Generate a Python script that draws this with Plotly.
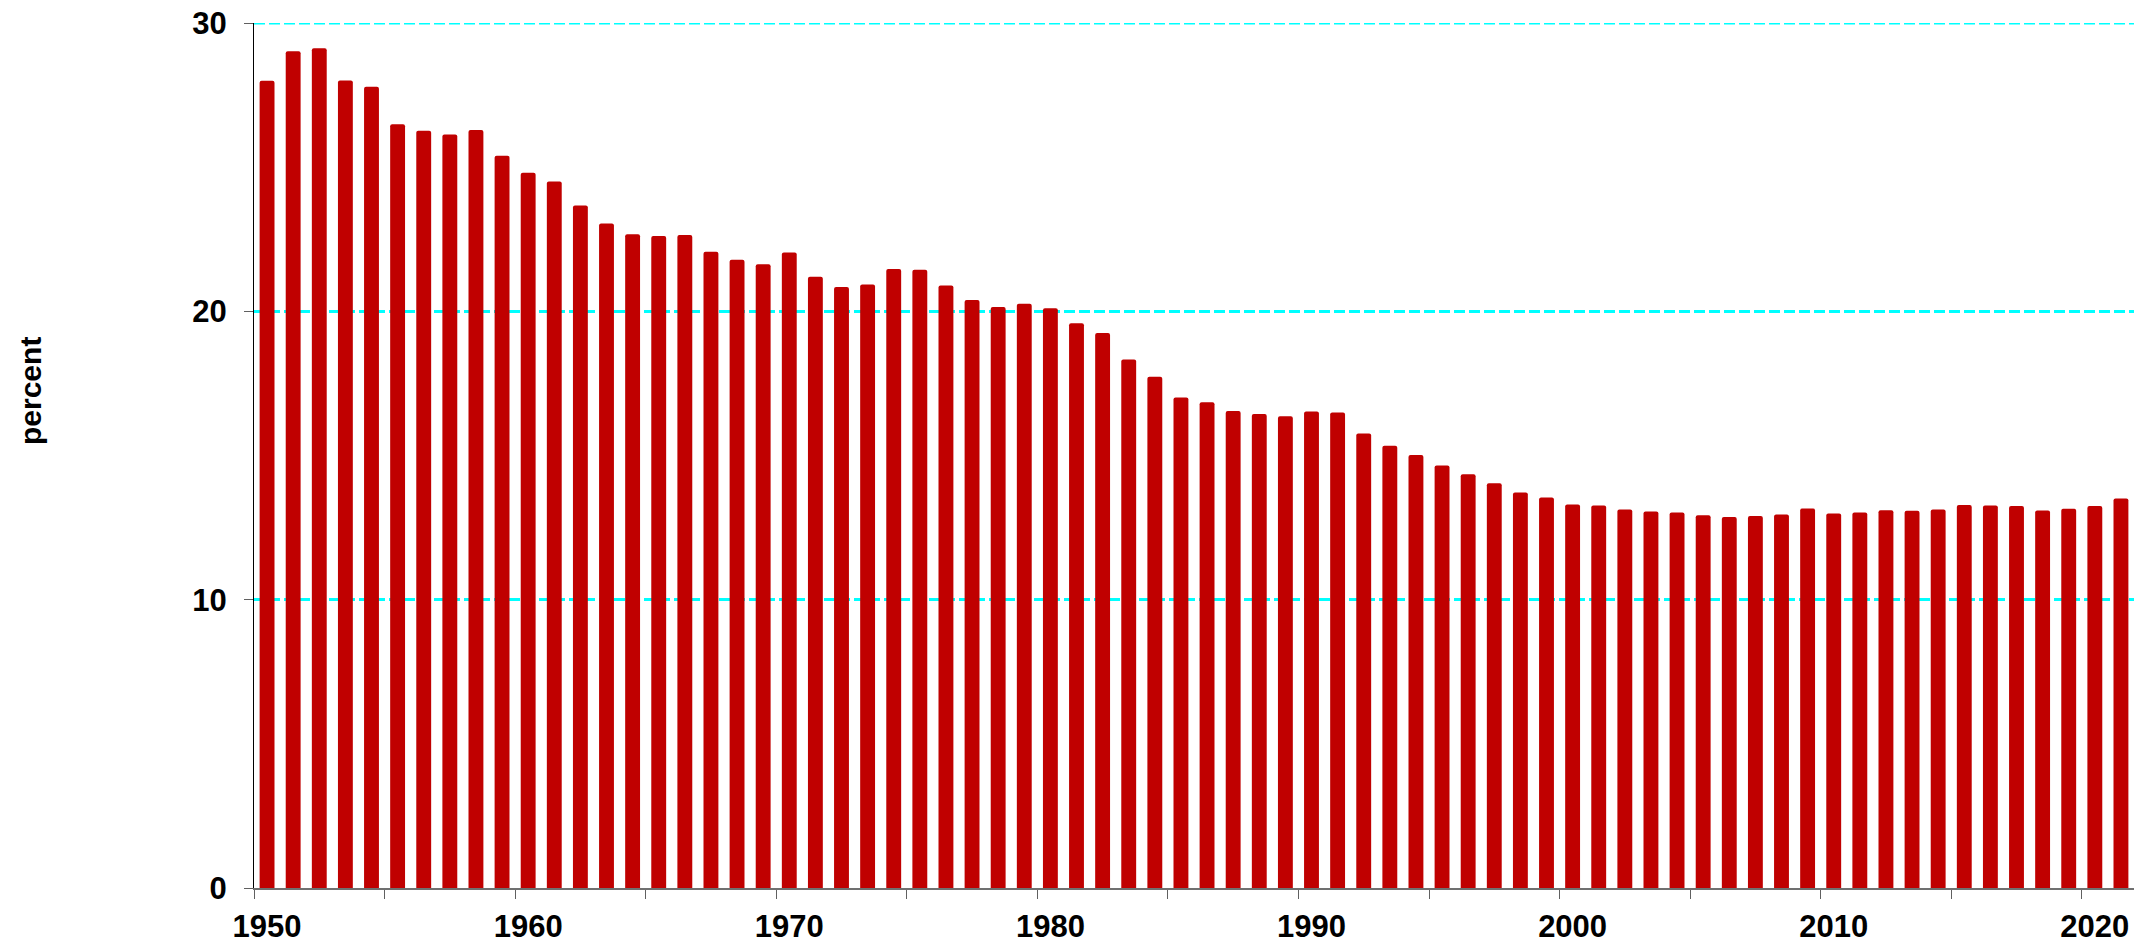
import plotly.graph_objects as go

years = list(range(1950, 2022))
values = [
    28.00, 29.02, 29.12, 28.01, 27.79, 26.49, 26.26, 26.13, 26.29, 25.40,
    24.81, 24.50, 23.67, 23.05, 22.67, 22.61, 22.65, 22.07, 21.79, 21.63,
    22.04, 21.20, 20.84, 20.93, 21.47, 21.44, 20.90, 20.39, 20.15, 20.26,
    20.11, 19.59, 19.25, 18.33, 17.73, 17.01, 16.85, 16.54, 16.44, 16.36,
    16.53, 16.49, 15.76, 15.34, 15.02, 14.65, 14.35, 14.04, 13.72, 13.54,
    13.30, 13.27, 13.13, 13.06, 13.02, 12.93, 12.87, 12.90, 12.95, 13.16,
    12.99, 13.02, 13.10, 13.08, 13.13, 13.28, 13.27, 13.25, 13.09, 13.15,
    13.25, 13.51,
]
x_tick_vals = [1950, 1960, 1970, 1980, 1990, 2000, 2010, 2020]
x_tick_text = ["1950", "1960", "1970", "1980", "1990", "2000", "2010", "2020"]
y_tick_vals = [0, 10, 20, 30]
y_tick_text = ["0", "10", "20", "30"]
y_title = "percent"

FONT = "Liberation Sans, Arial, sans-serif"
# the page places the figure 8px from the top-left corner of the window
OFF = 8
W, H = 2151 - OFF, 945 - OFF
ML, MR, MT, MB = 254 - OFF, 17, 23 - OFF, 57
GRID = dict(color="#00FFFF", width=3, dash="11px,4px")

fig = go.Figure()
fig.add_trace(go.Bar(
    x=years, y=values,
    marker=dict(color="#C00000", line=dict(width=0), cornerradius=2),
    hoverinfo="x+y",
))

fig.update_layout(
    width=W, height=H,
    margin=dict(l=ML, r=MR, t=MT, b=MB, pad=0, autoexpand=False),
    plot_bgcolor="white", paper_bgcolor="white",
    bargap=0.43,
    showlegend=False,
    font=dict(family=FONT, color="black"),
    xaxis=dict(
        range=[1949.5, 2021.5], automargin=False,
        tickmode="array", tickvals=x_tick_vals, ticktext=x_tick_text,
        ticks="outside", ticklen=0, tickcolor="rgba(0,0,0,0)",
        minor=dict(tickmode="linear", tick0=1949.5, dtick=5, ticks="outside",
                   ticklen=9, tickwidth=1, tickcolor="#606060", showgrid=False),
        showgrid=False, zeroline=False,
        showline=True, linecolor="#707070", linewidth=1.5,
        tickfont=dict(family=FONT, size=31, weight="bold", color="black"),
        ticklabelstandoff=10, ticklabeloverflow="allow",
    ),
    yaxis=dict(
        range=[0, 30], automargin=False,
        tickmode="array", tickvals=y_tick_vals, ticktext=y_tick_text,
        ticks="outside", ticklen=9, tickwidth=1, tickcolor="#606060",
        showgrid=True, gridcolor=GRID["color"], gridwidth=GRID["width"],
        griddash=GRID["dash"],
        zeroline=False,
        showline=True, linecolor="black", linewidth=1,
        tickfont=dict(family=FONT, size=31, weight="bold", color="black"),
        ticklabelstandoff=11, ticklabeloverflow="allow",
    ),
)

# top gridline at the range end (plotly clips the grid line at the edge)
fig.add_shape(type="line", xref="paper", yref="y", x0=0, x1=1,
              y0=y_tick_vals[-1], y1=y_tick_vals[-1], layer="below",
              line=GRID)

fig.add_annotation(
    text=y_title, textangle=-90,
    xref="paper", yref="paper",
    x=(30 - OFF - ML) / (W - ML - MR), y=(H - MB - (391 - OFF)) / (H - MB - MT),
    xanchor="center", yanchor="middle", showarrow=False,
    font=dict(family=FONT, size=30, weight="bold", color="black"),
)

fig.write_html("out.html")
